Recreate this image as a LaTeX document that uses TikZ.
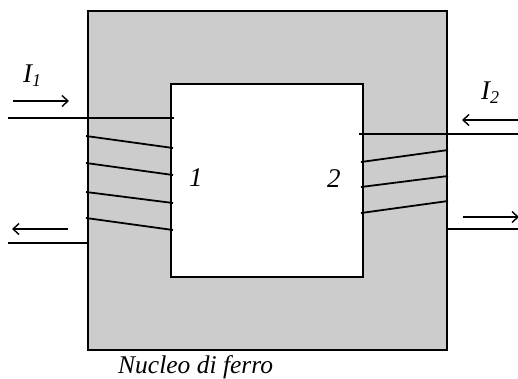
\documentclass[tikz,border=0pt]{standalone}
\usepackage{fontspec}
\setmainfont{Liberation Serif}
\usetikzlibrary{arrows.meta}
\definecolor{irongray}{HTML}{CCCCCC}
\tikzset{
  core/.style={draw=black, line width=1.8pt, fill=irongray},
  hole/.style={draw=black, line width=1.8pt, fill=white},
  wire/.style={draw=black, line width=1.8pt},
  current/.style={draw=black, line width=1.4pt, -{Straight Barb[length=6pt,width=11pt,line width=1.4pt]}},
  lbl/.style={inner sep=0pt, anchor=base west, font=\fontsize{27}{30}\selectfont\itshape},
  caption text/.style={inner sep=0pt, anchor=base west, font=\fontsize{25.5}{28}\selectfont\itshape}
}
\newcommand{\subs}[1]{\raisebox{-0.35ex}{\fontsize{18}{19}\selectfont #1}}
\begin{document}
\begin{tikzpicture}[x=1pt,y=-1pt]
\useasboundingbox (0,0) rectangle (518,378);
% core
\draw[core] (88,11) rectangle (447,350);
\draw[hole] (171,84) rectangle (363,277);
% coordinates for winding 1
\coordinate (a1) at (8,118);   \coordinate (a2) at (174,118);
\coordinate (b1) at (8,243);   \coordinate (b2) at (88,243);
\coordinate (c1l) at (86,136); \coordinate (c1r) at (173,148);
\coordinate (c2l) at (86,163); \coordinate (c2r) at (173,175);
\coordinate (c3l) at (86,192); \coordinate (c3r) at (173,203);
\coordinate (c4l) at (86,218); \coordinate (c4r) at (173,230);
\draw[wire] (a1) -- (a2);
\draw[wire] (b1) -- (b2);
\draw[wire] (c1l) -- (c1r);
\draw[wire] (c2l) -- (c2r);
\draw[wire] (c3l) -- (c3r);
\draw[wire] (c4l) -- (c4r);
% coordinates for winding 2
\coordinate (d1) at (359,134); \coordinate (d2) at (518,134);
\coordinate (e1) at (447,229); \coordinate (e2) at (518,229);
\coordinate (f1l) at (361,162); \coordinate (f1r) at (448,150);
\coordinate (f2l) at (361,187); \coordinate (f2r) at (448,176);
\coordinate (f3l) at (361,213); \coordinate (f3r) at (448,201);
\draw[wire] (d1) -- (d2);
\draw[wire] (e1) -- (e2);
\draw[wire] (f1l) -- (f1r);
\draw[wire] (f2l) -- (f2r);
\draw[wire] (f3l) -- (f3r);
% current arrows
\coordinate (p1) at (13,101); \coordinate (p2) at (69,101);
\coordinate (q1) at (68,229); \coordinate (q2) at (12,229);
\coordinate (r1) at (518,120); \coordinate (r2) at (462,120);
\coordinate (s1) at (463,217); \coordinate (s2) at (519,217);
\draw[current] (p1) -- (p2);
\draw[current] (q1) -- (q2);
\draw[current] (r1) -- (r2);
\draw[current] (s1) -- (s2);
% labels
\node[lbl] (I1) at (23,82) {I\subs{1}};
\node[lbl] (I2) at (481,99) {I\subs{2}};
\node[lbl] (n1) at (189,186) {1};
\node[lbl] (n2) at (327,187) {2};
\node[caption text] (nf) at (118,373) {Nucleo di ferro};
\end{tikzpicture}
\end{document}
